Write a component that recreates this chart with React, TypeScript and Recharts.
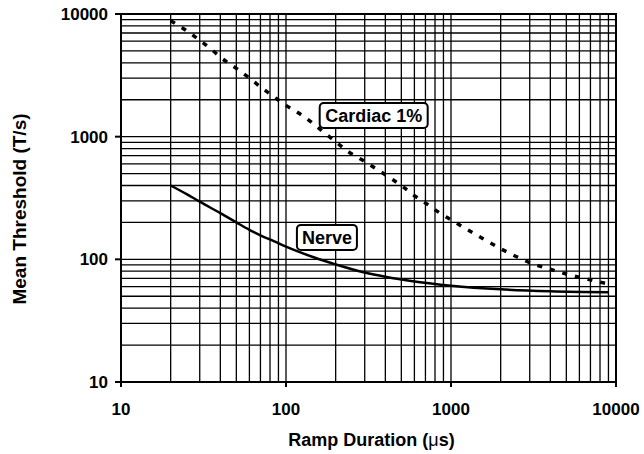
import React from 'react';
import { LineChart, Line, XAxis, YAxis, CartesianGrid, ReferenceDot, ReferenceArea } from 'recharts';

const majorTicks = [10, 100, 1000, 10000];
const xGridTicks = [10, 20, 30, 40, 50, 60, 70, 80, 90, 100, 200, 300, 400, 500, 600, 700, 800, 900, 1000, 2000, 3000, 4000, 5000, 6000, 7000, 8000, 9000, 10000];
const yGridTicks = [10, 20, 30, 40, 50, 60, 70, 80, 90, 100, 200, 300, 400, 500, 600, 700, 800, 900, 1000, 2000, 3000, 4000, 5000, 6000, 7000, 8000, 9000, 10000];

const cardiacDuration = [20, 25, 30, 35, 40, 50, 60, 70, 85, 100, 120, 145, 170, 200, 240, 290, 350, 420, 500, 600, 700, 850, 1000, 1500, 2000, 2500, 3000, 4000, 5000, 7000, 9000];
const cardiacThreshold = [8800, 7300, 6100, 5200, 4450, 3600, 3000, 2550, 2100, 1800, 1550, 1290, 1080, 910, 750, 645, 550, 468, 400, 330, 288, 240, 210, 152, 122, 105, 94, 83, 76, 68, 63];

const nerveDuration = [20, 25, 30, 40, 50, 60, 70, 85, 100, 120, 150, 200, 300, 400, 600, 1000, 2000, 4000, 9000];
const nerveThreshold = [400, 340, 295, 238, 200, 174, 157, 140, 127, 115, 103, 91, 78, 72, 66, 61, 57, 55, 54];

const cardiacData = cardiacDuration.map((x, i) => ({ x, y: cardiacThreshold[i] }));
const nerveData = nerveDuration.map((x, i) => ({ x, y: nerveThreshold[i] }));

const FONT = '"Liberation Sans", Arial, Helvetica, sans-serif';

const XTick = (props: any) => {
  const { x, y, payload } = props;
  const v = payload.value;
  if (!majorTicks.includes(v)) return <g />;
  return (
    <g>
      <line x1={x} y1={y} x2={x} y2={y + 5} stroke="#000" strokeWidth={2} />
      <text x={x} y={y + 33} textAnchor="middle" fontFamily={FONT} fontWeight="bold" fontSize={17} fill="#000">
        {v}
      </text>
    </g>
  );
};

const YTick = (props: any) => {
  const { x, y, payload } = props;
  const v = payload.value;
  if (!majorTicks.includes(v)) return <g />;
  return (
    <g>
      <line x1={x} y1={y} x2={x - 6} y2={y} stroke="#000" strokeWidth={2} />
      <text x={x - 13} y={y + 6} textAnchor="end" fontFamily={FONT} fontWeight="bold" fontSize={17} fill="#000">
        {v}
      </text>
    </g>
  );
};

const boxLabel = (text: string, w: number, h: number, fs: number) => (props: any) => {
  const { cx, cy } = props;
  return (
    <g>
      <rect x={cx - w / 2} y={cy - h / 2} width={w} height={h} rx={4} ry={4} fill="#fff" stroke="#000" strokeWidth={2} />
      <text x={cx} y={cy + fs * 0.36} textAnchor="middle" fontFamily={FONT} fontWeight="bold" fontSize={fs} fill="#000">
        {text}
      </text>
    </g>
  );
};

export default function App() {
  return (
    <div style={{ position: 'absolute', left: 0, top: 0, width: 644, height: 454, background: '#fff' }}>
      <LineChart width={644} height={454} margin={{ top: 14, right: 28, bottom: 0, left: 0 }}>
        <CartesianGrid stroke="#000" strokeWidth={1.3} />
        <XAxis
          type="number"
          dataKey="x"
          scale="log"
          domain={[10, 10000]}
          ticks={xGridTicks}
          interval={0}
          allowDataOverflow
          height={72}
          tickSize={0}
          tickMargin={0}
          tickLine={false}
          axisLine={{ stroke: '#000', strokeWidth: 2 }}
          tick={XTick}
          label={{
            content: (p: any) => {
              const vb = p.viewBox;
              return (
                <text x={vb.x + vb.width / 2 + 3} y={446} textAnchor="middle" fontFamily={FONT} fontWeight="bold" fontSize={18} fill="#000">
                  Ramp Duration (<tspan fontWeight="normal">μ</tspan>s)
                </text>
              );
            },
          }}
        />
        <YAxis
          type="number"
          dataKey="y"
          scale="log"
          domain={[10, 10000]}
          ticks={yGridTicks}
          interval={0}
          allowDataOverflow
          width={121}
          tickSize={0}
          tickMargin={0}
          tickLine={false}
          axisLine={{ stroke: '#000', strokeWidth: 2 }}
          tick={YTick}
          label={{
            content: () => (
              <text x={26} y={209} transform="rotate(-90, 26, 209)" textAnchor="middle" fontFamily={FONT} fontWeight="bold" fontSize={19} fill="#000">
                Mean Threshold (T/s)
              </text>
            ),
          }}
        />
        <ReferenceArea x1={10} x2={10000} y1={10} y2={10000} fill="none" fillOpacity={0} stroke="#000" strokeWidth={2} />
        <Line data={nerveData} dataKey="y" type="monotone" stroke="#000" strokeWidth={2.5} dot={false} isAnimationActive={false} />
        <Line data={cardiacData} dataKey="y" type="monotone" stroke="#000" strokeWidth={3.5} strokeDasharray="5 8" dot={false} isAnimationActive={false} />
        <ReferenceDot x={340} y={1490} r={0} shape={boxLabel('Cardiac 1%', 108, 25, 18)} />
        <ReferenceDot x={177} y={151} r={0} shape={boxLabel('Nerve', 60, 25, 18)} />
      </LineChart>
    </div>
  );
}
